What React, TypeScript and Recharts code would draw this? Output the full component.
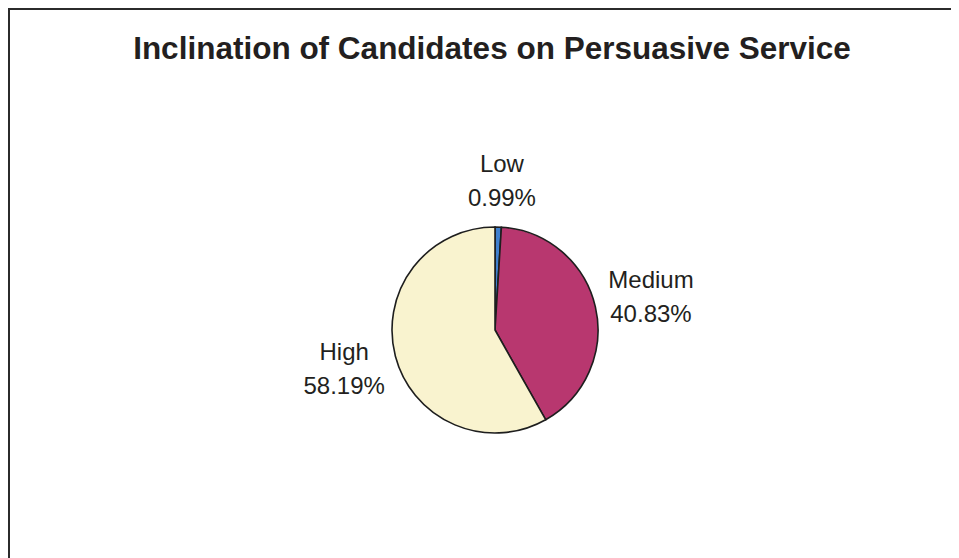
import React from "react";
import { PieChart, Pie, Cell } from "recharts";

const categories = ["Low", "Medium", "High"];
const shares = [0.99, 40.83, 58.19];
const sliceColors = ["#3f80cf", "#b8376f", "#f9f3cf"];

const chartData = categories.map((name, i) => ({ name, value: shares[i] }));

const RAD = Math.PI / 180;

// label block centred on an ellipse around the pie, two lines: name + percent
const renderLabel = (props: any) => {
  const { cx, cy, midAngle, index } = props;
  const x = cx + 158 * Math.cos(-midAngle * RAD) + 2;
  const yc = cy + 150 * Math.sin(-midAngle * RAD);
  const d = chartData[index];
  return (
    <text
      x={x}
      y={yc - 8.5}
      textAnchor="middle"
      fill="#231f20"
      fontSize={24}
      fontFamily="'Liberation Sans', Arial, sans-serif"
    >
      <tspan x={x}>{d.name}</tspan>
      <tspan x={x} dy={34}>{d.value.toFixed(2)}%</tspan>
    </text>
  );
};

export default function App() {
  return (
    <div
      style={{
        position: "relative",
        width: 949,
        height: 548,
        borderTop: "2px solid #2b2b2b",
        borderLeft: "2px solid #2b2b2b",
        background: "#fff",
      }}
    >
      <svg width={949} height={80} style={{ position: "absolute", left: 0, top: 0 }}>
        <text
          x={482}
          y={49}
          textAnchor="middle"
          fontSize={31.5}
          fontWeight="bold"
          fill="#231f20"
          fontFamily="'Liberation Sans', Arial, sans-serif"
        >
          Inclination of Candidates on Persuasive Service
        </text>
      </svg>
      <PieChart width={949} height={548} style={{ position: "absolute", left: 0, top: 0 }}>
        <Pie
          data={chartData}
          dataKey="value"
          nameKey="name"
          cx={480}
          cy={315}
          outerRadius={103}
          startAngle={90}
          endAngle={-270}
          stroke="#1e1e1e"
          strokeWidth={1.6}
          label={renderLabel}
          labelLine={false}
          isAnimationActive={false}
        >
          {chartData.map((entry, i) => (
            <Cell key={`cell-${entry.name}`} fill={sliceColors[i]} />
          ))}
        </Pie>
      </PieChart>
    </div>
  );
}
